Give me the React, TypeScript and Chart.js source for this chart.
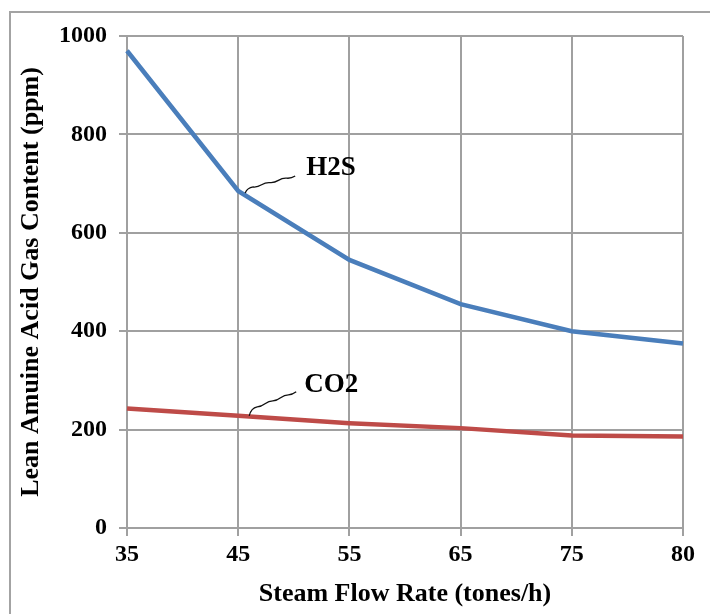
import React, { useEffect, useRef } from "react";
import { Chart, registerables } from "chart.js";

Chart.register(...registerables);

const flowRates = ["35", "45", "55", "65", "75", "80"];
const h2sValues = [970, 685, 545, 455, 400, 375];
const co2Values = [243, 228, 213, 203, 188, 186];
const seriesLabels = ["H2S", "CO2"];
const xTitle = "Steam Flow Rate (tones/h)";
const yTitle = "Lean Amuine Acid Gas Content (ppm)";

const FONT = "'Liberation Serif', 'Times New Roman', serif";

const framePlugin = {
  id: "frame",
  beforeDraw(chart: any) {
    const ctx = chart.ctx;
    ctx.save();
    ctx.strokeStyle = "#a3a3a3";
    ctx.lineWidth = 2;
    ctx.strokeRect(10, 12, 900, 900);
    ctx.restore();
  },
};

const leaderPlugin = {
  id: "leaders",
  afterDatasetsDraw(chart: any) {
    const ctx = chart.ctx;
    const offsets = [
      { sx: 7, sy: 2, mx: 15, my: -4, ex: 57, ey: -15, tx: 68, ty: -23 },
      { sx: 11, sy: 0, mx: 19, my: -9, ex: 58, ey: -24, tx: 66, ty: -31 },
    ];
    chart.data.datasets.forEach((ds: any, i: number) => {
      const meta = chart.getDatasetMeta(i);
      const pt = meta.data[1];
      if (!pt) return;
      const o = offsets[i];
      const x0 = pt.x + o.sx, y0 = pt.y + o.sy;
      const x1 = pt.x + o.mx, y1 = pt.y + o.my;
      const x2 = pt.x + o.ex, y2 = pt.y + o.ey;
      ctx.save();
      ctx.strokeStyle = "#111";
      ctx.lineWidth = 1.3;
      ctx.beginPath();
      ctx.moveTo(x0, y0);
      ctx.quadraticCurveTo(x0 + 2, y1 + 1, x1, y1);
      const n = 5;
      let px = x1, py = y1;
      for (let k = 1; k <= n; k++) {
        const nx = x1 + ((x2 - x1) * k) / n;
        const ny = y1 + ((y2 - y1) * k) / n;
        const cx = (px + nx) / 2;
        const cy = (py + ny) / 2 + (k % 2 === 0 ? -1.5 : 1.5);
        ctx.quadraticCurveTo(cx, cy, nx, ny);
        px = nx; py = ny;
      }
      ctx.stroke();
      ctx.fillStyle = "#000";
      ctx.font = `bold 27px ${FONT}`;
      ctx.textAlign = "left";
      ctx.textBaseline = "middle";
      ctx.fillText(ds.label, pt.x + o.tx, pt.y + o.ty);
      ctx.restore();
    });
  },
};

export default function App() {
  const ref = useRef<HTMLCanvasElement | null>(null);
  useEffect(() => {
    if (!ref.current) return;
    const chart = new Chart(ref.current, {
      type: "line",
      data: {
        labels: flowRates,
        datasets: [
          {
            label: seriesLabels[0],
            data: h2sValues,
            borderColor: "#4a7ebb",
            borderWidth: 4.5,
            pointRadius: 0,
            tension: 0,
            fill: false,
          },
          {
            label: seriesLabels[1],
            data: co2Values,
            borderColor: "#be4b48",
            borderWidth: 4.5,
            pointRadius: 0,
            tension: 0,
            fill: false,
          },
        ],
      },
      options: {
        animation: false,
        responsive: false,
        maintainAspectRatio: false,
        layout: { padding: { left: 16, top: 36, right: 27, bottom: 0 } },
        plugins: { legend: { display: false }, tooltip: { enabled: false } },
        scales: {
          x: {
            type: "category",
            offset: false,
            grid: { color: "#a0a0a0", lineWidth: 2, tickLength: 8, drawTicks: true },
            border: { color: "#a0a0a0", width: 2 },
            ticks: {
              color: "#000",
              font: { family: FONT, size: 24, weight: "bold" },
              padding: 4,
              maxRotation: 0,
              autoSkip: false,
            },
            title: {
              display: true,
              text: xTitle,
              color: "#000",
              font: { family: FONT, size: 26, weight: "bold" },
              padding: { top: 0, bottom: 4 },
            },
            afterFit: (s: any) => {
              s.height = 86;
            },
          },
          y: {
            min: 0,
            max: 1000,
            grid: { color: "#a0a0a0", lineWidth: 2, tickLength: 8 },
            border: { color: "#a0a0a0", width: 2 },
            ticks: {
              stepSize: 200,
              color: "#000",
              font: { family: FONT, size: 24, weight: "bold" },
              padding: 12,
              callback: (v: any) => String(v),
            },
            title: {
              display: true,
              text: yTitle,
              color: "#000",
              font: { family: FONT, size: 26, weight: "bold" },
              padding: { top: 0, bottom: 0 },
            },
            afterFit: (s: any) => {
              s.width = 111;
            },
          },
        },
      },
      plugins: [framePlugin, leaderPlugin],
    });
    return () => chart.destroy();
  }, []);
  return (
    <div style={{ position: "absolute", left: 0, top: 0, width: 710, height: 614, background: "#fff" }}>
      <canvas ref={ref} width={710} height={614} style={{ display: "block" }} />
    </div>
  );
}
